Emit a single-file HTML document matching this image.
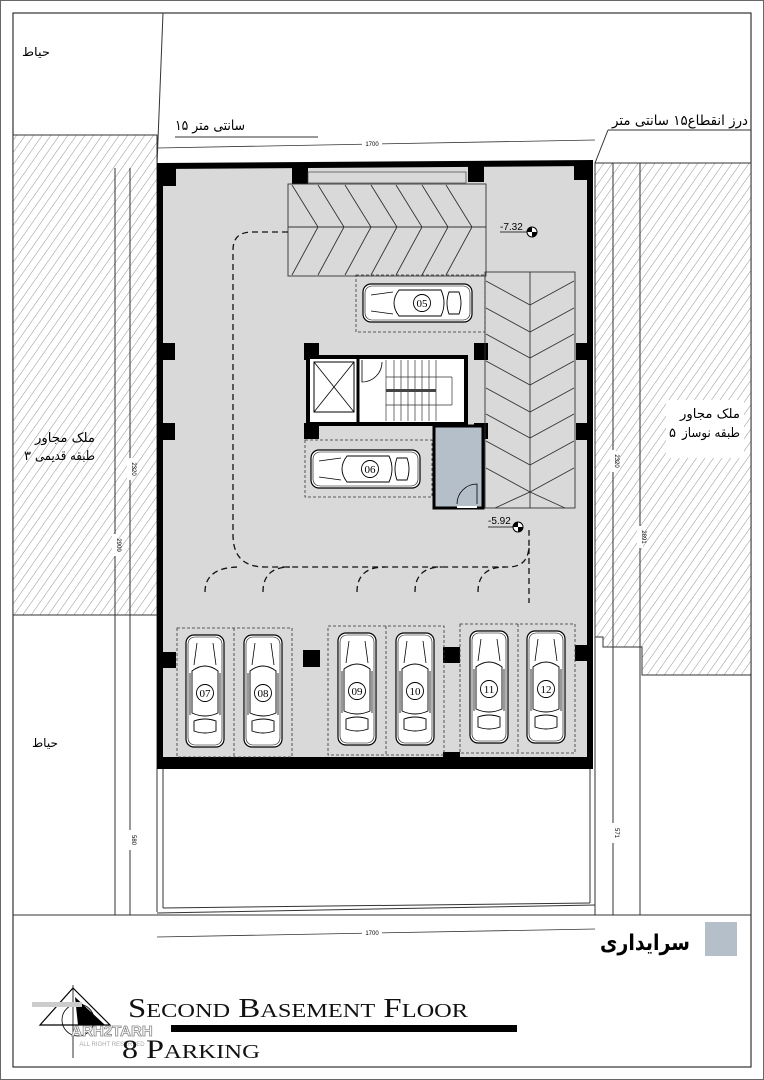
<!DOCTYPE html>
<html><head><meta charset="utf-8"><style>
html,body{margin:0;padding:0;background:#fff}
svg{display:block}
text{font-family:"Liberation Sans","DejaVu Sans",sans-serif}
text.ar{font-family:"DejaVu Sans","Noto Sans CJK SC",sans-serif}
text.ser{font-family:"Liberation Serif",serif}
</style></head><body>
<svg width="764" height="1080" viewBox="0 0 764 1080" xmlns="http://www.w3.org/2000/svg">
<defs>
<pattern id="h" width="7" height="7" patternUnits="userSpaceOnUse" patternTransform="rotate(35)">
<rect width="7" height="7" fill="#fff"/><line x1="0" y1="0" x2="0" y2="7" stroke="#777" stroke-width="0.8"/>
</pattern>
<g id="cv">
<rect x="0" y="0" width="38" height="112" rx="8" fill="#fff" stroke="#000" stroke-width="1.2"/>
<rect x="2" y="2" width="34" height="108" rx="7" fill="none" stroke="#000" stroke-width="0.6"/>
<line x1="11" y1="8" x2="8" y2="30" stroke="#000" stroke-width="0.8"/>
<line x1="27" y1="8" x2="30" y2="30" stroke="#000" stroke-width="0.8"/>
<path d="M6 36 Q19 26 32 36 L32 78 Q19 84 6 78 Z" fill="none" stroke="#000" stroke-width="0.9"/>
<path d="M4 38 L4 80 M34 38 L34 80" stroke="#000" stroke-width="0.8"/>
<path d="M8 86 Q19 82 30 86 L30 96 Q19 100 8 96 Z" fill="none" stroke="#000" stroke-width="0.9"/>
<circle cx="19" cy="58" r="8.5" fill="#fff" stroke="#000" stroke-width="0.9"/>
</g>
<g id="ch">
<rect x="0" y="0" width="109" height="38" rx="8" fill="#fff" stroke="#000" stroke-width="1.2"/>
<rect x="2" y="2" width="105" height="34" rx="7" fill="none" stroke="#000" stroke-width="0.6"/>
<line x1="8" y1="11" x2="30" y2="8" stroke="#000" stroke-width="0.8"/>
<line x1="8" y1="27" x2="30" y2="30" stroke="#000" stroke-width="0.8"/>
<path d="M36 6 Q26 19 36 32 L78 32 Q84 19 78 6 Z" fill="none" stroke="#000" stroke-width="0.9"/>
<path d="M86 8 Q82 19 86 30 L96 30 Q100 19 96 8 Z" fill="none" stroke="#000" stroke-width="0.9"/>
<circle cx="59" cy="19" r="8.5" fill="#fff" stroke="#000" stroke-width="0.9"/>
</g>
</defs>

<rect x="0.5" y="0.5" width="763" height="1079" fill="#fff" stroke="#666" stroke-width="1"/>
<rect x="13" y="13" width="738" height="1054" fill="none" stroke="#333" stroke-width="1.2"/>

<rect x="13" y="135" width="144" height="480" fill="url(#h)" stroke="#333" stroke-width="1"/>
<path d="M595 163 L751 163 L751 675 L642 675 L642 647 L603 647 L603 637 L595 637 Z" fill="url(#h)" stroke="#333" stroke-width="1"/>
<rect x="666" y="400" width="78" height="58" fill="#fff"/>

<line x1="163" y1="13" x2="157" y2="165" stroke="#333" stroke-width="1"/>
<line x1="157" y1="135" x2="157" y2="912" stroke="#333" stroke-width="1"/>
<line x1="163" y1="766" x2="163" y2="908" stroke="#333" stroke-width="1"/>
<line x1="115" y1="168" x2="115" y2="915" stroke="#333" stroke-width="1"/>
<line x1="130" y1="168" x2="130" y2="915" stroke="#333" stroke-width="1"/>
<line x1="595" y1="163" x2="595" y2="915" stroke="#333" stroke-width="1"/>
<line x1="613" y1="163" x2="613" y2="915" stroke="#333" stroke-width="1"/>
<line x1="640" y1="163" x2="640" y2="915" stroke="#333" stroke-width="1"/>
<line x1="590" y1="766" x2="590" y2="903" stroke="#333" stroke-width="1"/>
<path d="M163 908 L590 903" stroke="#333" stroke-width="1"/>
<path d="M157 913 L595 905" stroke="#333" stroke-width="1"/>
<line x1="13" y1="915" x2="751" y2="915" stroke="#333" stroke-width="1"/>
<line x1="595" y1="163" x2="608" y2="130" stroke="#333" stroke-width="1"/>
<line x1="608" y1="130" x2="751" y2="130" stroke="#333" stroke-width="1"/>
<line x1="175" y1="137" x2="318" y2="137" stroke="#333" stroke-width="1"/>
<line x1="157" y1="148" x2="595" y2="140" stroke="#333" stroke-width="0.8"/>
<rect x="362" y="139" width="20" height="8" fill="#fff"/>
<text x="372" y="146" font-size="6" text-anchor="middle">1700</text>
<line x1="157" y1="937" x2="595" y2="929" stroke="#333" stroke-width="0.8"/>
<rect x="362" y="928" width="20" height="8" fill="#fff"/>
<text x="372" y="935" font-size="6" text-anchor="middle">1700</text>

<g font-size="6">
<rect x="127" y="458" width="6" height="22" fill="#fff"/><text transform="translate(132,469) rotate(90)" text-anchor="middle">2320</text>
<rect x="112" y="534" width="6" height="22" fill="#fff"/><text transform="translate(117,545) rotate(90)" text-anchor="middle">2900</text>
<rect x="127" y="830" width="6" height="20" fill="#fff"/><text transform="translate(132,840) rotate(90)" text-anchor="middle">580</text>
<rect x="610" y="450" width="6" height="22" fill="#fff"/><text transform="translate(615,461) rotate(90)" text-anchor="middle">2320</text>
<rect x="637" y="526" width="6" height="22" fill="#fff"/><text transform="translate(642,537) rotate(90)" text-anchor="middle">2891</text>
<rect x="610" y="823" width="6" height="20" fill="#fff"/><text transform="translate(615,833) rotate(90)" text-anchor="middle">571</text>
</g>

<g fill="#000">
<text x="22" y="56" font-size="12" class="ar" textLength="28" lengthAdjust="spacingAndGlyphs">حیاط</text>
<text x="32" y="747" font-size="12" class="ar" textLength="26" lengthAdjust="spacingAndGlyphs">حیاط</text>
<text x="175" y="130" font-size="14" class="ar" textLength="70" lengthAdjust="spacingAndGlyphs">۱۵ سانتی متر</text>
<text x="612" y="125" font-size="14" class="ar" textLength="136" lengthAdjust="spacingAndGlyphs">درز انقطاع۱۵ سانتی متر</text>
<text x="35" y="442" font-size="13" class="ar" textLength="60" lengthAdjust="spacingAndGlyphs">ملک مجاور</text>
<text x="35" y="460" font-size="13" class="ar" textLength="60" lengthAdjust="spacingAndGlyphs">طبقه قدیمی</text>
<text x="24" y="460" font-size="13" class="ar">۳</text>
<text x="680" y="418" font-size="13" class="ar" textLength="60" lengthAdjust="spacingAndGlyphs">ملک مجاور</text>
<text x="682" y="437" font-size="13" class="ar" textLength="58" lengthAdjust="spacingAndGlyphs">طبقه نوساز</text>
<text x="669" y="437" font-size="13" class="ar">۵</text>
<text x="600" y="950" font-size="22" font-weight="bold" class="ar" textLength="90" lengthAdjust="spacingAndGlyphs">سرایداری</text>
</g>
<rect x="705" y="922" width="32" height="34" fill="#b5bfca"/>

<path d="M160 166 L590 163 L590 766 L160 766 Z" fill="#d9d9d9" stroke="#000" stroke-width="6"/>
<rect x="160" y="757" width="430" height="9" fill="#000"/>
<g fill="#000">
<rect x="160" y="166" width="16" height="20"/>
<rect x="574" y="163" width="16" height="17"/>
<rect x="292" y="168" width="16" height="16"/>
<rect x="468" y="166" width="16" height="16"/>
<rect x="160" y="343" width="15" height="17"/>
<rect x="160" y="423" width="15" height="17"/>
<rect x="576" y="343" width="14" height="17"/>
<rect x="576" y="423" width="14" height="17"/>
<rect x="304" y="343" width="15" height="17"/>
<rect x="474" y="343" width="14" height="17"/>
<rect x="304" y="423" width="15" height="16"/>
<rect x="474" y="423" width="14" height="16"/>
<rect x="160" y="652" width="16" height="16"/>
<rect x="303" y="650" width="17" height="17"/>
<rect x="443" y="647" width="17" height="16"/>
<rect x="575" y="645" width="15" height="16"/>
<rect x="443" y="752" width="17" height="10"/>
</g>
<rect x="308" y="172" width="158" height="11" fill="#d9d9d9" stroke="#444" stroke-width="0.7"/>

<rect x="288" y="184" width="198" height="92" fill="none" stroke="#333" stroke-width="0.9"/>
<line x1="288" y1="227" x2="486" y2="227" stroke="#333" stroke-width="0.9"/>
<g fill="none" stroke="#333" stroke-width="0.9">
<polyline points="292,185 318,227 292,275"/>
<polyline points="318,185 344,227 318,275"/>
<polyline points="345,185 371,227 345,275"/>
<polyline points="371,185 397,227 371,275"/>
<polyline points="396,185 422,227 396,275"/>
<polyline points="422,185 448,227 422,275"/>
<polyline points="446,185 472,227 446,275"/>
</g>
<rect x="485" y="272" width="90" height="236" fill="none" stroke="#333" stroke-width="0.9"/>
<line x1="530" y1="272" x2="530" y2="508" stroke="#333" stroke-width="0.9"/>
<g fill="none" stroke="#333" stroke-width="0.9">
<polyline points="486,281 530,305 574,281"/>
<polyline points="486,308 530,332 574,308"/>
<polyline points="486,334 530,358 574,334"/>
<polyline points="486,361 530,385 574,361"/>
<polyline points="486,388 530,412 574,388"/>
<polyline points="486,414 530,438 574,414"/>
<polyline points="486,441 530,465 574,441"/>
<polyline points="486,468 530,492 574,468"/>
<polyline points="495,508 530,492 565,508"/>
</g>

<g fill="none" stroke="#333" stroke-width="0.8" stroke-dasharray="3,2">
<rect x="356" y="275" width="129" height="57"/>
<rect x="305" y="440" width="127" height="57"/>
<rect x="177" y="628" width="115" height="129"/>
<line x1="234" y1="628" x2="234" y2="757"/>
<rect x="328" y="626" width="116" height="129"/>
<line x1="386" y1="626" x2="386" y2="755"/>
<rect x="460" y="624" width="115" height="129"/>
<line x1="518" y1="624" x2="518" y2="753"/>
</g>

<rect x="308" y="357" width="158" height="67" fill="#fff" stroke="#000" stroke-width="4"/>
<rect x="314" y="362" width="40" height="50" fill="#fff" stroke="#000" stroke-width="1"/>
<line x1="314" y1="362" x2="354" y2="412" stroke="#000" stroke-width="0.8"/>
<line x1="354" y1="362" x2="314" y2="412" stroke="#000" stroke-width="0.8"/>
<line x1="358" y1="357" x2="358" y2="424" stroke="#000" stroke-width="3"/>
<path d="M362 360 L362 382 A20 20 0 0 0 382 362" fill="none" stroke="#000" stroke-width="0.8"/>
<g stroke="#333" stroke-width="0.7">
<line x1="386" y1="360" x2="386" y2="421"/><line x1="394" y1="360" x2="394" y2="421"/>
<line x1="401" y1="360" x2="401" y2="421"/><line x1="408" y1="360" x2="408" y2="421"/>
<line x1="415" y1="360" x2="415" y2="421"/><line x1="422" y1="360" x2="422" y2="421"/>
<line x1="429" y1="360" x2="429" y2="421"/><line x1="436" y1="360" x2="436" y2="421"/>
<line x1="386" y1="377" x2="452" y2="377"/><line x1="386" y1="405" x2="452" y2="405"/>
<line x1="452" y1="377" x2="452" y2="405"/>
</g>
<rect x="386" y="389" width="50" height="3" fill="#444"/>

<rect x="434" y="426" width="49" height="82" fill="#b5bfca" stroke="#000" stroke-width="3"/>
<path d="M477 504 L477 484 A20 20 0 0 0 457 504" fill="none" stroke="#000" stroke-width="0.8"/>
<line x1="457" y1="507" x2="477" y2="507" stroke="#fff" stroke-width="2"/>

<use href="#ch" x="363" y="284"/>
<use href="#ch" x="311" y="450"/>
<use href="#cv" x="186" y="635"/>
<use href="#cv" x="244" y="635"/>
<use href="#cv" x="338" y="633"/>
<use href="#cv" x="396" y="633"/>
<use href="#cv" x="470" y="631"/>
<use href="#cv" x="527" y="631"/>
<g font-size="11" text-anchor="middle">
<text x="422" y="307" class="ser">05</text>
<text x="370" y="473" class="ser">06</text>
<text x="205" y="697" class="ser">07</text>
<text x="263" y="697" class="ser">08</text>
<text x="357" y="695" class="ser">09</text>
<text x="415" y="695" class="ser">10</text>
<text x="489" y="693" class="ser">11</text>
<text x="546" y="693" class="ser">12</text>
</g>

<g fill="none" stroke="#111" stroke-width="1.3" stroke-dasharray="6,4">
<path d="M288 232 L252 232 Q233 232 233 250 L233 535 Q233 567 265 567 L508 567 Q529 567 529 545 L529 530"/>
<line x1="529" y1="548" x2="529" y2="603"/>
<path d="M205 592 Q205 567 240 567"/>
<path d="M263 592 Q263 567 290 567"/>
<path d="M357 592 Q357 567 385 567"/>
<path d="M415 592 Q415 567 442 567"/>
<path d="M478 592 Q478 567 505 567"/>
</g>

<g font-size="10">
<text x="500" y="230">-7.32</text>
<line x1="500" y1="232" x2="532" y2="232" stroke="#000" stroke-width="0.7"/>
<circle cx="532" cy="232" r="5" fill="#fff" stroke="#000"/>
<path d="M532 232 L537 232 A5 5 0 0 1 532 237 Z M532 232 L527 232 A5 5 0 0 1 532 227 Z" fill="#000"/>
<text x="488" y="524">-5.92</text>
<line x1="488" y1="527" x2="518" y2="527" stroke="#000" stroke-width="0.7"/>
<circle cx="518" cy="527" r="5" fill="#fff" stroke="#000"/>
<path d="M518 527 L523 527 A5 5 0 0 1 518 532 Z M518 527 L513 527 A5 5 0 0 1 518 522 Z" fill="#000"/>
</g>

<path d="M73 988 L110 1025 L40 1025 Z" fill="none" stroke="#000" stroke-width="1.2"/>
<path d="M75 997 L105 1025 L78 1025 Z" fill="#000"/>
<circle cx="78" cy="1020" r="16" fill="none" stroke="#000" stroke-width="0.8"/>
<line x1="73" y1="985" x2="73" y2="1058" stroke="#000" stroke-width="0.8"/>
<rect x="32" y="1002" width="50" height="5" fill="#ccc"/>
<text x="112" y="1036" font-size="15" font-weight="bold" fill="#fff" stroke="#888" stroke-width="0.8" text-anchor="middle">ARH2TARH</text>
<text x="112" y="1046" font-size="6" fill="#aaa" text-anchor="middle">ALL RIGHT RESERVED</text>

<text x="128" y="1017" class="ser" font-size="27" fill="#111" textLength="340" lengthAdjust="spacingAndGlyphs">S<tspan font-size="20">ECOND</tspan> B<tspan font-size="20">ASEMENT</tspan> F<tspan font-size="20">LOOR</tspan></text>
<rect x="171" y="1025" width="346" height="7" fill="#000"/>
<text x="122" y="1058" class="ser" font-size="26" fill="#111" textLength="138" lengthAdjust="spacingAndGlyphs">8 P<tspan font-size="20">ARKING</tspan></text>
</svg>
</body></html>
